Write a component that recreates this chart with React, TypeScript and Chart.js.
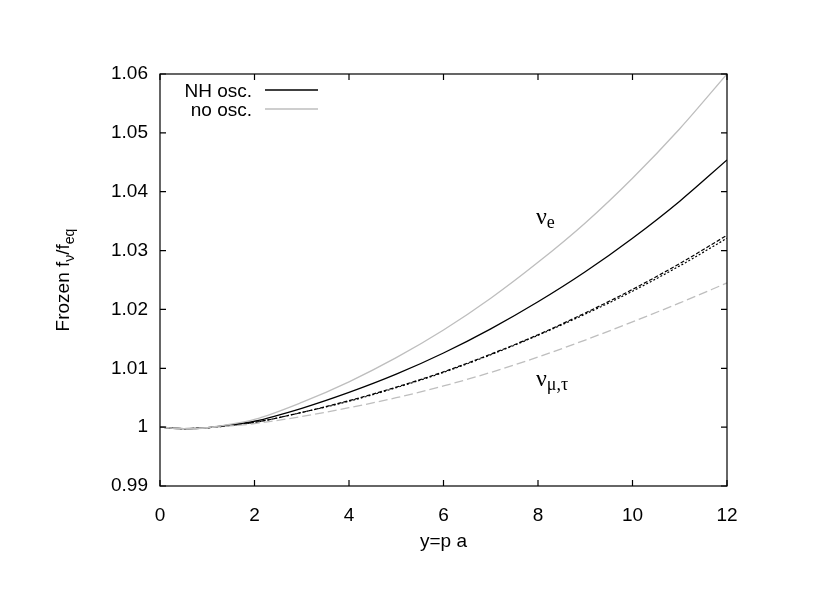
import React, { useEffect, useRef } from 'react';
import { Chart, registerables } from 'chart.js';

Chart.register(...registerables);

// ---- data ----
const xValues = [0, 0.5, 1, 1.5, 2, 3, 4, 5, 6, 7, 8, 9, 10, 11, 12];
const noOscNuE = [1.0, 0.99975, 0.9999, 1.0005, 1.0013, 1.0042, 1.0077, 1.0118, 1.0165, 1.0219, 1.028, 1.0347, 1.0423, 1.0507, 1.06];
const nhOscNuE = [1.0, 0.99975, 0.9999, 1.0004, 1.001, 1.0032, 1.0059, 1.009, 1.0126, 1.0167, 1.0213, 1.0264, 1.0321, 1.0384, 1.0454];
const nhOscNuMu = [1.0, 0.99975, 0.9999, 1.0003, 1.0008, 1.0025, 1.0045, 1.0068, 1.0094, 1.0124, 1.0157, 1.0194, 1.0234, 1.0278, 1.0326];
const nhOscNuTau = [1.0, 0.99975, 0.9999, 1.0003, 1.0008, 1.0025, 1.0044, 1.0067, 1.0093, 1.0123, 1.0156, 1.0192, 1.0231, 1.0274, 1.0321];
const noOscNuMuTau = [1.0, 0.99975, 0.9999, 1.0002, 1.0006, 1.0018, 1.0033, 1.005, 1.007, 1.0093, 1.0119, 1.0148, 1.0179, 1.0211, 1.0245];

const xTicks = [0, 2, 4, 6, 8, 10, 12];
const yTicks = [0.99, 1.0, 1.01, 1.02, 1.03, 1.04, 1.05, 1.06];
const legendLabels = ['NH osc.', 'no osc.'];
const xTitle = 'y=p a';

const BLACK = '#000000';
const GREY = '#bebebe';
const SANS = '"Liberation Sans", Arial, sans-serif';
const SERIF = '"Liberation Serif", "DejaVu Serif", serif';

const pts = (ys: number[]) => xValues.map((x, i) => ({ x, y: ys[i] }));

const fmtY = (v: number) => {
  const s = Number(v).toFixed(2);
  return s === '1.00' ? '1' : s;
};

const decorPlugin = {
  id: 'decor',
  afterDraw(chart: any) {
    const { ctx, chartArea: a, scales } = chart;
    const xs = scales.x;
    const ys = scales.y;
    ctx.save();
    // frame
    ctx.strokeStyle = BLACK;
    ctx.lineWidth = 1.2;
    ctx.strokeRect(a.left, a.top, a.right - a.left, a.bottom - a.top);
    // inward ticks on all sides
    const tl = 6;
    ctx.beginPath();
    xTicks.forEach((v) => {
      const px = xs.getPixelForValue(v);
      ctx.moveTo(px, a.bottom);
      ctx.lineTo(px, a.bottom - tl);
      ctx.moveTo(px, a.top);
      ctx.lineTo(px, a.top + tl);
    });
    yTicks.forEach((v) => {
      const py = ys.getPixelForValue(v);
      ctx.moveTo(a.left, py);
      ctx.lineTo(a.left + tl, py);
      ctx.moveTo(a.right, py);
      ctx.lineTo(a.right - tl, py);
    });
    ctx.stroke();

    // legend
    ctx.font = `19px ${SANS}`;
    ctx.textAlign = 'right';
    ctx.textBaseline = 'alphabetic';
    const legColors = [BLACK, GREY];
    legendLabels.forEach((lab, i) => {
      const base = 97 + i * 19;
      ctx.fillStyle = BLACK;
      ctx.fillText(lab, 252, base);
      ctx.strokeStyle = legColors[i];
      ctx.lineWidth = 1.3;
      ctx.beginPath();
      ctx.moveTo(265, base - 7);
      ctx.lineTo(318, base - 7);
      ctx.stroke();
    });

    // curve labels
    ctx.textAlign = 'left';
    ctx.fillStyle = BLACK;
    const lx = xs.getPixelForValue(8) - 2;
    const e1 = ys.getPixelForValue(1.0345);
    ctx.font = `24px ${SERIF}`;
    ctx.fillText('ν', lx, e1);
    let w = ctx.measureText('ν').width;
    ctx.font = `18px ${SERIF}`;
    ctx.fillText('e', lx + w, e1 + 4);
    const e2 = ys.getPixelForValue(1.007);
    ctx.font = `24px ${SERIF}`;
    ctx.fillText('ν', lx, e2);
    w = ctx.measureText('ν').width;
    ctx.font = `18px ${SERIF}`;
    ctx.fillText('μ,τ', lx + w, e2 + 4);

    // x title
    ctx.font = `19px ${SANS}`;
    ctx.textAlign = 'center';
    ctx.textBaseline = 'middle';
    ctx.fillText(xTitle, (a.left + a.right) / 2, 542);

    // y title with subscripts
    const parts: [string, boolean][] = [
      ['Frozen f', false],
      ['ν', true],
      ['/f', false],
      ['eq', true],
    ];
    const big = `19px ${SANS}`;
    const small = `14px ${SANS}`;
    let total = 0;
    parts.forEach(([t, sub]) => {
      ctx.font = sub ? small : big;
      total += ctx.measureText(t).width;
    });
    ctx.translate(69, (a.top + a.bottom) / 2);
    ctx.rotate(-Math.PI / 2);
    ctx.textAlign = 'left';
    ctx.textBaseline = 'alphabetic';
    let cx = -total / 2;
    parts.forEach(([t, sub]) => {
      ctx.font = sub ? small : big;
      ctx.fillText(t, cx, sub ? 5 : 0);
      cx += ctx.measureText(t).width;
    });
    ctx.restore();
  },
};

export default function App() {
  const ref = useRef<HTMLCanvasElement | null>(null);
  useEffect(() => {
    if (!ref.current) return;
    const chart = new Chart(ref.current, {
      type: 'line',
      data: {
        datasets: [
          { label: 'no osc. nu_e', data: pts(noOscNuE), borderColor: GREY, borderWidth: 1.3 },
          { label: 'no osc. nu_mu,tau', data: pts(noOscNuMuTau), borderColor: GREY, borderWidth: 1.3, borderDash: [9, 4] },
          { label: 'NH osc. nu_e', data: pts(nhOscNuE), borderColor: BLACK, borderWidth: 1.3 },
          { label: 'NH osc. nu_mu', data: pts(nhOscNuMu), borderColor: BLACK, borderWidth: 1.2, borderDash: [4, 2] },
          { label: 'NH osc. nu_tau', data: pts(nhOscNuTau), borderColor: BLACK, borderWidth: 1.2, borderDash: [2, 2] },
        ].map((d) => ({ ...d, pointRadius: 0, fill: false, cubicInterpolationMode: 'monotone' as const })),
      },
      options: {
        animation: false,
        responsive: false,
        layout: { padding: { top: 74, right: 107, left: 0, bottom: 0 } },
        plugins: { legend: { display: false }, tooltip: { enabled: false } },
        scales: {
          x: {
            type: 'linear',
            min: 0,
            max: 12,
            afterFit: (s: any) => { s.height = 104; },
            afterBuildTicks: (s: any) => { s.ticks = xTicks.map((v) => ({ value: v })); },
            grid: { display: false, drawTicks: false },
            border: { display: false },
            ticks: { color: BLACK, font: { family: SANS, size: 19 }, padding: 18, maxRotation: 0 },
          },
          y: {
            type: 'linear',
            min: 0.99,
            max: 1.06,
            afterFit: (s: any) => { s.width = 160; },
            afterBuildTicks: (s: any) => { s.ticks = yTicks.map((v) => ({ value: v })); },
            grid: { display: false, drawTicks: false },
            border: { display: false },
            ticks: { color: BLACK, font: { family: SANS, size: 19 }, padding: 12, callback: (v: any) => fmtY(v) },
          },
        },
      },
      plugins: [decorPlugin],
    });
    return () => chart.destroy();
  }, []);
  return (
    <div style={{ position: 'fixed', left: 0, top: 0, width: 834, height: 590, background: '#fff' }}>
      <canvas ref={ref} width={834} height={590} style={{ width: 834, height: 590 }} />
    </div>
  );
}
